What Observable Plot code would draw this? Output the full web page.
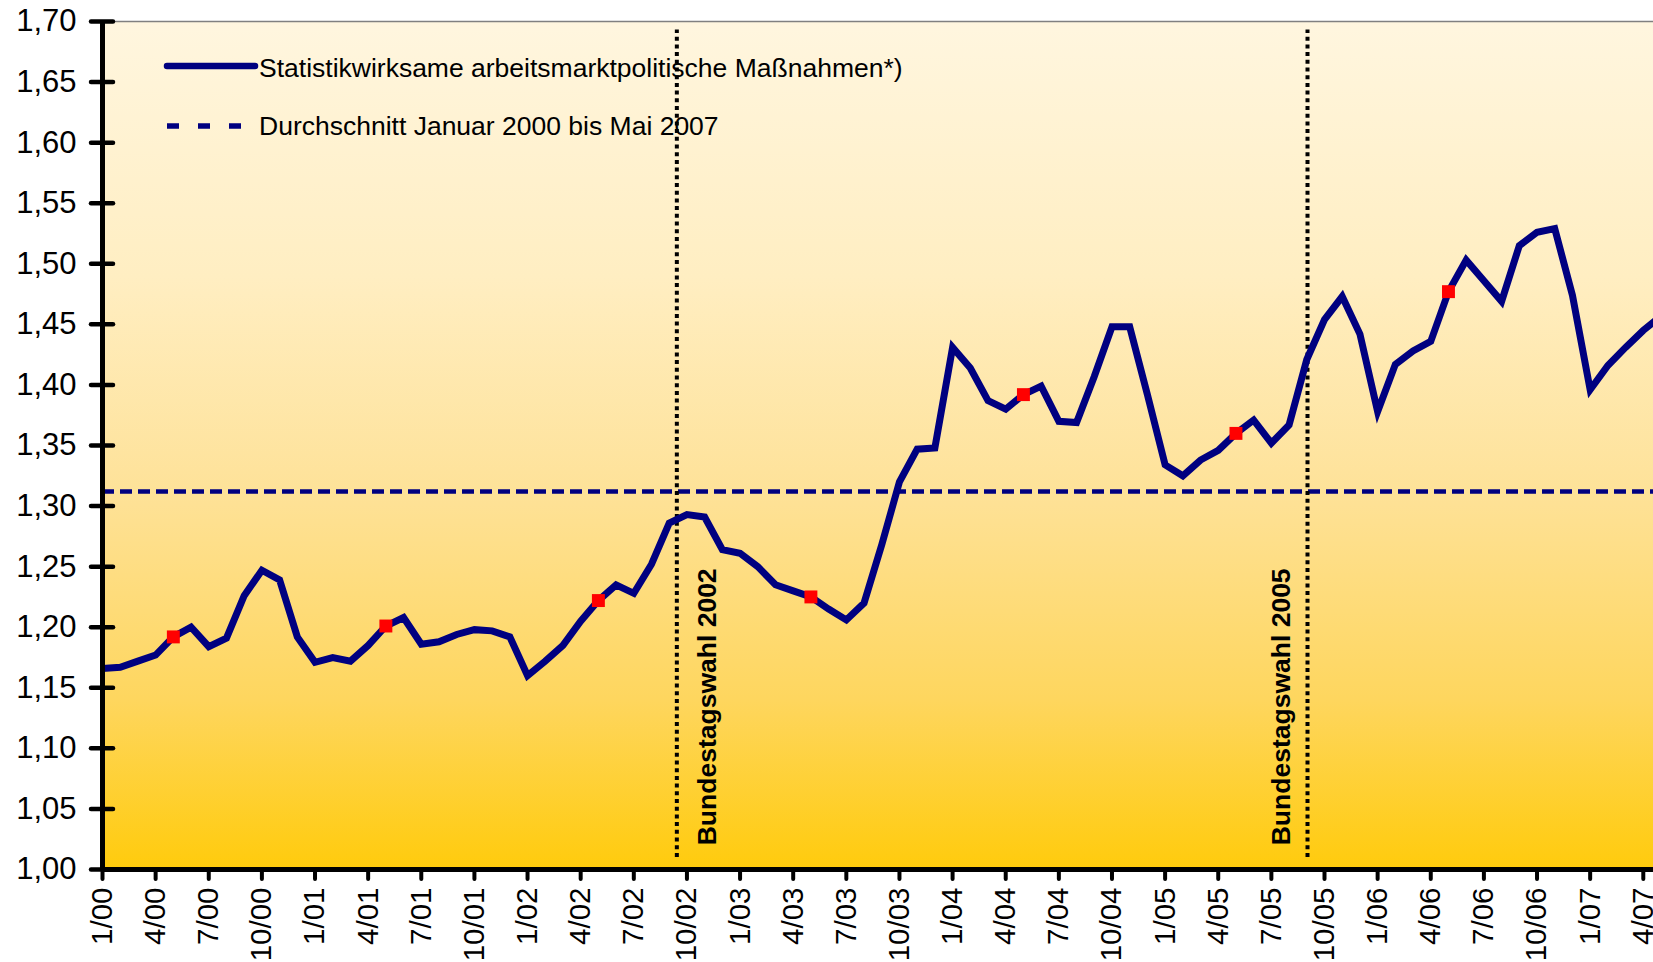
<!DOCTYPE html>
<html>
<head>
<meta charset="utf-8">
<script src="https://cdn.jsdelivr.net/npm/d3@7"></script>
<script src="https://cdn.jsdelivr.net/npm/@observablehq/plot@0.6"></script>
<style>
  html, body { margin: 0; padding: 0; background: #fff; overflow: hidden; }
  #wrap { position: relative; width: 1653px; height: 962px; overflow: hidden; }
  #wrap svg { overflow: hidden; }
  #legend { position: absolute; left: 0; top: 0; }
</style>
</head>
<body>
<div id="wrap"></div>
<script>
// Monthly values, January 2000 (index 0) to May 2007 (index 88)
const values = [
  1.166, 1.167, 1.172, 1.177, 1.192, 1.200, 1.184, 1.191, 1.226, 1.247, 1.239, 1.192,
  1.171, 1.175, 1.172, 1.185, 1.201, 1.208, 1.186, 1.188, 1.194, 1.198, 1.197, 1.192,
  1.160, 1.172, 1.185, 1.205, 1.222, 1.235, 1.228, 1.252, 1.286, 1.293, 1.291, 1.264,
  1.261, 1.250, 1.235, 1.230, 1.225, 1.215, 1.206, 1.220, 1.268, 1.320, 1.347, 1.348,
  1.431, 1.414, 1.387, 1.380, 1.392, 1.399, 1.370, 1.369, 1.407, 1.448, 1.448, 1.392,
  1.334, 1.325, 1.338, 1.346, 1.360, 1.371, 1.352, 1.367, 1.421, 1.454, 1.473, 1.442,
  1.378, 1.417, 1.428, 1.436, 1.477, 1.503, 1.486, 1.469, 1.515, 1.526, 1.529, 1.474,
  1.396, 1.416, 1.431, 1.445, 1.457
];
const average = 1.312;
const tickLabels = [
  "1/00","4/00","7/00","10/00","1/01","4/01","7/01","10/01","1/02","4/02","7/02","10/02",
  "1/03","4/03","7/03","10/03","1/04","4/04","7/04","10/04","1/05","4/05","7/05","10/05",
  "1/06","4/06","7/06","10/06","1/07","4/07"
];
const tickMonths = tickLabels.map((_, i) => i * 3);
const yTickValues = [1.00, 1.05, 1.10, 1.15, 1.20, 1.25, 1.30, 1.35, 1.40, 1.45, 1.50, 1.55, 1.60, 1.65, 1.70];
const yTickLabels = ["1,00","1,05","1,10","1,15","1,20","1,25","1,30","1,35","1,40","1,45","1,50","1,55","1,60","1,65","1,70"];
const elections2002 = [{label: "Bundestagswahl 2002", month: 32.43}];
const elections2005 = [{label: "Bundestagswahl 2005", month: 68.04}];
const legendSeries = "Statistikwirksame arbeitsmarktpolitische Maßnahmen*)";
const legendAverage = "Durchschnitt Januar 2000 bis Mai 2007";

const data = values.map((v, i) => ({m: i, v}));
const mayPoints = data.filter(d => d.m % 12 === 4 && d.m < 88);

const FONT = "'Liberation Sans', Arial, sans-serif";
const NAVY = "#000080";

const svg = Plot.plot({
  width: 1653,
  height: 962,
  marginLeft: 102,
  marginRight: -7.5,
  marginTop: 21,
  marginBottom: 93,
  style: {fontFamily: FONT, background: "white", color: "black"},
  x: {domain: [0, 88], label: null},
  y: {domain: [1.0, 1.7], label: null},
  marks: [
    Plot.frame({fill: "url(#bgGrad)", stroke: "none"}),
    Plot.ruleY([1.7], {stroke: "#808080", strokeWidth: 1.5}),
    Plot.ruleY([average], {stroke: NAVY, strokeWidth: 4.5, strokeDasharray: "12,6"}),
    Plot.ruleX(elections2002.concat(elections2005), {x: "month", y1: 1.01, y2: 1.693, stroke: "black", strokeWidth: 4, strokeDasharray: "4,3.7"}),
    Plot.text(elections2002, {x: "month", y: 1.02, text: "label", rotate: -90, textAnchor: "start", fontWeight: "bold", fontSize: 26.5, dx: 30.4, fill: "black"}),
    Plot.text(elections2005, {x: "month", y: 1.02, text: "label", rotate: -90, textAnchor: "start", fontWeight: "bold", fontSize: 26.5, dx: -26.3, fill: "black"}),
    Plot.line(data, {x: "m", y: "v", stroke: NAVY, strokeWidth: 7, strokeLinejoin: "miter", strokeMiterlimit: 4, clip: true}),
    Plot.dot(mayPoints, {x: "m", y: "v", symbol: "square", r: 7.3, fill: "#ff0000", stroke: "none"}),
    Plot.ruleX([0], {y1: 1.0, y2: 1.7, stroke: "black", strokeWidth: 5}),
    Plot.ruleY([1.0], {stroke: "black", strokeWidth: 5}),
    Plot.axisY({ticks: yTickValues, tickSize: 22, dx: 11, tickFormat: () => "", strokeWidth: 4.5, strokeLinecap: "round", label: null}),
    Plot.axisY({ticks: yTickValues, tickSize: 0, tickPadding: 26, fontSize: 31, tickFormat: d => yTickLabels[yTickValues.findIndex(t => Math.abs(t - d) < 1e-9)], label: null}),
    Plot.axisX({ticks: tickMonths, tickSize: 10, tickPadding: 8, tickRotate: -90, fontSize: 29.5, strokeWidth: 4, strokeLinecap: "round",
      tickFormat: d => tickLabels[tickMonths.indexOf(d)], label: null})
  ]
});

// background gradient
const defs = d3.select(svg).insert("defs", ":first-child");
const grad = defs.append("linearGradient").attr("id", "bgGrad")
  .attr("x1", 0).attr("y1", 0).attr("x2", 0).attr("y2", 1);
[[0, "#FFF6DF"], [0.3, "#FFEEC2"], [0.55, "#FEE299"], [0.8, "#FED65E"], [1, "#FFCB0C"]]
  .forEach(([o, c]) => grad.append("stop").attr("offset", o).attr("stop-color", c));

const wrap = document.getElementById("wrap");
wrap.appendChild(svg);

// legend overlay
const leg = d3.select(wrap).append("svg").attr("id", "legend")
  .attr("width", 1000).attr("height", 160).style("font-family", FONT);
leg.append("line").attr("x1", 167).attr("x2", 255).attr("y1", 66).attr("y2", 66)
  .attr("stroke", NAVY).attr("stroke-width", 6.5).attr("stroke-linecap", "round");
leg.append("text").attr("x", 259).attr("y", 76.5).attr("font-size", 26.5).attr("fill", "black").text(legendSeries);
leg.append("line").attr("x1", 167).attr("x2", 241).attr("y1", 126).attr("y2", 126)
  .attr("stroke", NAVY).attr("stroke-width", 5.5).attr("stroke-dasharray", "12,19");
leg.append("text").attr("x", 259).attr("y", 134.5).attr("font-size", 26.5).attr("fill", "black").text(legendAverage);
</script>
</body>
</html>
